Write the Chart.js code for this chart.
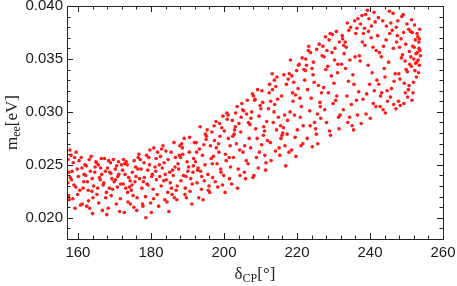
<!DOCTYPE html>
<html>
<head>
<meta charset="utf-8">
<script src="https://cdn.jsdelivr.net/npm/chart.js@4.4.0/dist/chart.umd.min.js"></script>
<style>
  html, body { margin: 0; padding: 0; background: #fff; }
  #wrap { width: 457px; height: 286px; }
</style>
</head>
<body>
<div id="wrap"><canvas id="scatterChart" width="457" height="286"></canvas></div>
<script>
// axis settings
const xMin = 157, xMax = 260, xStep = 4, xMajor = 20;
const yMin = 0.018, yMax = 0.040, yStep = 0.001, yMajor = 0.005;

// delta_CP [deg] (one row per ~5 degree strip)
const deltaCP = [
  157.4,159.8,158.1,161.2,157.9,160.5,158.7,161.7,159.2,157.2,160.9,158.4,161.4,159.5,157.6,160.1,158.9,161.9,157.3,159.9,160.7,158.2,161.1,157.8,159.4,160.3,158.6,161.6,157.5,159.1,
  162.3,165.7,163.9,166.4,162.8,164.6,166.9,163.2,165.1,162.1,164.1,166.2,163.6,165.4,162.6,164.9,166.7,163.4,165.9,162.9,164.3,166.5,163.1,165.2,162.4,164.7,166.1,163.8,165.6,164.0,
  167.5,170.8,168.9,171.6,167.1,169.7,171.2,168.3,170.2,167.8,169.3,171.9,168.6,170.5,167.3,169.9,171.4,168.1,170.9,167.6,169.1,171.1,168.7,170.3,167.9,169.5,171.7,168.4,170.6,169.0,
  172.4,175.8,173.7,176.5,172.9,174.6,176.9,173.2,175.3,172.2,174.1,176.2,173.5,175.6,172.7,174.9,176.7,173.9,175.1,172.5,174.4,176.4,173.1,175.9,172.8,174.3,176.1,173.6,175.4,174.8,
  177.3,180.6,178.8,181.5,177.7,179.6,181.8,178.2,180.1,177.1,179.2,181.3,178.5,180.8,177.9,179.9,181.1,178.6,180.4,177.5,179.4,181.7,178.1,180.2,177.8,179.1,181.4,178.9,180.7,179.7,
  182.4,185.5,183.8,186.6,182.8,184.7,186.9,183.3,185.1,182.1,184.2,186.3,183.6,185.8,182.6,184.9,186.1,183.1,185.3,182.9,184.4,186.7,183.9,185.6,182.3,184.1,186.4,183.5,185.9,184.6,
  187.4,190.7,188.6,191.5,187.8,189.7,191.9,188.2,190.3,187.2,189.1,191.2,188.9,190.5,187.6,189.4,191.7,188.4,190.9,187.1,189.9,191.3,188.7,190.1,187.9,189.3,191.6,188.1,190.6,189.6,
  192.5,195.6,193.8,196.7,192.2,194.6,196.3,193.1,195.1,192.8,194.1,196.9,193.5,195.9,192.4,194.8,196.1,193.3,195.4,192.9,194.3,196.5,193.9,195.2,192.6,194.5,196.8,193.6,195.7,194.9,
  197.4,200.6,198.8,201.5,197.9,199.7,201.8,198.3,200.1,197.1,199.2,201.2,198.6,200.8,197.6,199.4,201.7,198.1,200.3,197.8,199.9,201.1,198.9,200.4,197.3,199.1,201.4,198.5,200.9,199.6,
  202.3,205.7,203.6,206.6,202.8,204.4,206.2,203.1,205.2,202.1,204.9,206.9,203.9,205.4,202.6,204.1,206.4,203.4,205.9,202.9,204.7,206.1,203.7,205.1,202.4,204.3,206.7,203.2,205.6,204.6,
  207.3,210.6,208.7,211.5,207.8,209.6,211.9,208.2,210.1,207.1,209.2,211.2,208.5,210.8,207.6,209.4,211.7,208.1,210.3,207.9,209.9,211.1,208.9,210.4,207.4,209.1,211.4,208.4,210.9,209.7,
  212.4,215.6,213.8,216.6,212.9,214.7,216.3,213.2,215.1,212.2,214.2,216.9,213.5,215.8,212.7,214.5,216.1,213.9,215.3,212.5,214.9,216.7,213.3,215.5,212.8,214.1,216.4,213.7,215.9,214.4,
  217.4,220.6,218.8,221.6,217.9,219.7,221.2,218.2,220.1,217.1,219.3,221.9,218.5,220.8,217.6,219.5,221.4,218.1,220.3,217.8,219.9,221.7,218.9,220.4,217.3,219.1,221.1,218.6,220.9,219.6,
  222.3,225.6,223.7,226.7,222.8,224.5,226.3,223.2,225.1,222.1,224.2,226.9,223.5,225.9,222.6,224.8,226.1,223.9,225.3,222.4,224.4,226.5,223.1,225.7,222.9,224.1,226.4,223.6,225.4,224.7,
  227.4,230.6,228.8,231.5,227.9,229.7,231.8,228.2,230.1,227.1,229.2,231.2,228.6,230.8,227.6,229.4,231.6,228.1,230.3,227.8,229.9,231.1,228.9,230.4,227.3,229.1,231.4,228.4,230.9,229.6,
  232.4,235.6,233.8,236.6,232.9,234.7,236.3,233.2,235.1,232.2,234.2,236.9,233.5,235.8,232.7,234.5,236.1,233.9,235.3,232.5,234.9,236.7,233.3,235.5,232.8,234.1,236.4,233.7,235.9,234.4,
  237.4,240.6,238.8,241.6,237.9,239.7,241.2,238.2,240.1,237.1,239.3,241.9,238.5,240.8,237.6,239.5,241.4,238.1,240.3,237.8,239.9,241.7,238.9,240.4,237.3,239.1,241.1,238.6,240.9,239.6,
  242.3,245.6,243.7,246.6,242.8,244.5,246.3,243.2,245.1,242.1,244.2,246.9,243.5,245.9,242.6,244.8,246.1,243.9,245.3,242.4,244.4,246.5,243.1,245.7,242.9,244.1,246.4,243.6,245.4,244.7,
  247.3,250.5,248.7,249.6,247.8,249.2,250.8,248.2,250.1,247.1,249.9,248.5,250.3,247.6,249.4,248.9,250.6,247.9,249.1,248.3,250.9,247.5,249.7,248.1,250.2,247.2,249.3,248.6,250.7,249.8,
  251.2,253.4,252.3,253.7,251.6,252.8,253.1,251.9,253.5,252.1,251.4,252.6,253.6,251.8,253.2,252.4,253.8,251.3,252.9,253.3,252.2,251.7,253.0,252.7,253.5,251.5,252.5,253.4,251.1,252.0
];
// m_ee [eV], same order as deltaCP
const mee = [
  0.0221,0.0246,0.0259,0.0213,0.0238,0.0226,0.0252,0.0241,0.0209,0.0233,0.0257,0.0244,0.0228,0.0262,0.0217,0.0239,0.0231,0.0250,0.0255,0.0222,0.0212,0.0236,0.0247,0.0264,0.0229,0.0254,0.0218,0.0234,0.0243,0.0257,
  0.0249,0.0214,0.0237,0.0256,0.0226,0.0243,0.0231,0.0209,0.0252,0.0240,0.0219,0.0247,0.0258,0.0228,0.0234,0.0253,0.0207,0.0244,0.0238,0.0216,0.0230,0.0241,0.0255,0.0222,0.0211,0.0248,0.0236,0.0225,0.0250,0.0204,
  0.0244,0.0229,0.0252,0.0218,0.0233,0.0255,0.0241,0.0209,0.0246,0.0224,0.0237,0.0250,0.0228,0.0213,0.0256,0.0234,0.0206,0.0247,0.0239,0.0219,0.0221,0.0253,0.0243,0.0236,0.0203,0.0227,0.0232,0.0254,0.0249,0.0242,
  0.0232,0.0248,0.0215,0.0257,0.0241,0.0226,0.0237,0.0253,0.0210,0.0245,0.0229,0.0219,0.0250,0.0234,0.0205,0.0243,0.0260,0.0238,0.0221,0.0255,0.0213,0.0246,0.0228,0.0239,0.0251,0.0235,0.0207,0.0224,0.0254,0.0231,
  0.0246,0.0227,0.0259,0.0236,0.0213,0.0250,0.0262,0.0238,0.0205,0.0255,0.0231,0.0244,0.0220,0.0266,0.0234,0.0214,0.0248,0.0200,0.0241,0.0228,0.0257,0.0222,0.0252,0.0239,0.0211,0.0245,0.0256,0.0232,0.0218,0.0264,
  0.0239,0.0262,0.0217,0.0248,0.0230,0.0255,0.0226,0.0268,0.0243,0.0211,0.0236,0.0271,0.0252,0.0222,0.0258,0.0206,0.0240,0.0247,0.0233,0.0265,0.0215,0.0257,0.0241,0.0228,0.0250,0.0263,0.0219,0.0235,0.0245,0.0224,
  0.0251,0.0225,0.0266,0.0243,0.0259,0.0219,0.0271,0.0235,0.0248,0.0230,0.0275,0.0213,0.0240,0.0262,0.0246,0.0228,0.0256,0.0270,0.0237,0.0217,0.0253,0.0232,0.0260,0.0244,0.0268,0.0222,0.0249,0.0257,0.0276,0.0239,
  0.0262,0.0241,0.0227,0.0281,0.0253,0.0235,0.0268,0.0219,0.0274,0.0245,0.0259,0.0238,0.0286,0.0230,0.0271,0.0250,0.0224,0.0265,0.0283,0.0247,0.0217,0.0256,0.0239,0.0277,0.0233,0.0269,0.0251,0.0244,0.0226,0.0279,
  0.0273,0.0254,0.0289,0.0237,0.0266,0.0296,0.0248,0.0229,0.0282,0.0258,0.0243,0.0275,0.0262,0.0299,0.0234,0.0285,0.0268,0.0251,0.0224,0.0291,0.0240,0.0297,0.0277,0.0260,0.0287,0.0246,0.0257,0.0270,0.0293,0.0231,
  0.0292,0.0268,0.0305,0.0251,0.0279,0.0240,0.0298,0.0286,0.0262,0.0232,0.0308,0.0275,0.0246,0.0301,0.0257,0.0289,0.0311,0.0270,0.0237,0.0283,0.0295,0.0254,0.0228,0.0302,0.0277,0.0264,0.0290,0.0299,0.0243,0.0281,
  0.0266,0.0309,0.0284,0.0252,0.0317,0.0296,0.0273,0.0240,0.0303,0.0288,0.0321,0.0259,0.0312,0.0278,0.0300,0.0247,0.0291,0.0315,0.0269,0.0238,0.0306,0.0282,0.0257,0.0320,0.0294,0.0275,0.0245,0.0311,0.0286,0.0262,
  0.0318,0.0275,0.0330,0.0297,0.0254,0.0312,0.0285,0.0336,0.0266,0.0303,0.0324,0.0249,0.0290,0.0315,0.0271,0.0333,0.0280,0.0307,0.0259,0.0326,0.0295,0.0268,0.0321,0.0287,0.0310,0.0263,0.0335,0.0300,0.0278,0.0283,
  0.0292,0.0345,0.0318,0.0270,0.0336,0.0258,0.0305,0.0349,0.0283,0.0326,0.0297,0.0340,0.0264,0.0313,0.0331,0.0276,0.0351,0.0300,0.0322,0.0262,0.0339,0.0287,0.0310,0.0344,0.0279,0.0328,0.0268,0.0334,0.0295,0.0316,
  0.0339,0.0298,0.0356,0.0318,0.0275,0.0347,0.0309,0.0362,0.0284,0.0330,0.0267,0.0353,0.0301,0.0325,0.0344,0.0290,0.0364,0.0313,0.0279,0.0350,0.0335,0.0294,0.0358,0.0270,0.0321,0.0341,0.0305,0.0287,0.0359,0.0328,
  0.0352,0.0311,0.0368,0.0284,0.0340,0.0373,0.0297,0.0358,0.0327,0.0362,0.0278,0.0345,0.0318,0.0376,0.0302,0.0334,0.0366,0.0290,0.0349,0.0371,0.0308,0.0337,0.0282,0.0360,0.0323,0.0374,0.0295,0.0343,0.0315,0.0356,
  0.0372,0.0326,0.0384,0.0297,0.0355,0.0380,0.0311,0.0366,0.0287,0.0345,0.0377,0.0319,0.0361,0.0386,0.0302,0.0349,0.0374,0.0290,0.0335,0.0369,0.0307,0.0388,0.0341,0.0283,0.0363,0.0329,0.0379,0.0315,0.0352,0.0295,
  0.0383,0.0337,0.0392,0.0305,0.0366,0.0388,0.0320,0.0374,0.0294,0.0353,0.0396,0.0330,0.0379,0.0361,0.0289,0.0344,0.0385,0.0312,0.0370,0.0391,0.0326,0.0358,0.0298,0.0381,0.0348,0.0317,0.0394,0.0363,0.0308,0.0376,
  0.0389,0.0314,0.0362,0.0329,0.0305,0.0381,0.0393,0.0318,0.0347,0.0372,0.0299,0.0336,0.0386,0.0322,0.0356,0.0310,0.0377,0.0341,0.0395,0.0326,0.0368,0.0307,0.0352,0.0384,0.0315,0.0333,0.0360,0.0302,0.0374,0.0320,
  0.0366,0.0321,0.0390,0.0348,0.0310,0.0375,0.0357,0.0331,0.0383,0.0303,0.0340,0.0369,0.0314,0.0386,0.0327,0.0354,0.0378,0.0336,0.0392,0.0306,0.0345,0.0372,0.0318,0.0361,0.0338,0.0380,0.0308,0.0351,0.0325,0.0364,
  0.0352,0.0366,0.0339,0.0358,0.0375,0.0347,0.0371,0.0328,0.0344,0.0361,0.0387,0.0355,0.0378,0.0318,0.0349,0.0368,0.0353,0.0343,0.0374,0.0337,0.0382,0.0362,0.0356,0.0333,0.0369,0.0311,0.0346,0.0360,0.0376,0.0350
];

const points = deltaCP.map((x, i) => ({ x: x, y: mee[i] }));

function isMajor(v, major) {
  const r = v / major;
  return Math.abs(r - Math.round(r)) < 1e-6;
}

// Mathematica style frame with inward ticks on all four sides, plus axis titles
const framePlugin = {
  id: 'frame',
  afterDraw(chart) {
    const ctx = chart.ctx;
    const a = chart.chartArea;
    const xs = chart.scales.x, ys = chart.scales.y;
    ctx.save();
    ctx.strokeStyle = '#222';
    ctx.lineWidth = 1;
    ctx.strokeRect(Math.round(a.left) + 0.5, Math.round(a.top) + 0.5,
                   Math.round(a.right - a.left), Math.round(a.bottom - a.top));
    ctx.beginPath();
    xs.ticks.forEach(t => {
      const len = isMajor(t.value, xMajor) ? 6 : 3.5;
      const px = Math.round(xs.getPixelForValue(t.value)) + 0.5;
      ctx.moveTo(px, a.bottom); ctx.lineTo(px, a.bottom - len);
      ctx.moveTo(px, a.top); ctx.lineTo(px, a.top + len);
    });
    ys.ticks.forEach(t => {
      const len = isMajor(t.value, yMajor) ? 6 : 3.5;
      const py = Math.round(ys.getPixelForValue(t.value)) + 0.5;
      ctx.moveTo(a.left, py); ctx.lineTo(a.left + len, py);
      ctx.moveTo(a.right, py); ctx.lineTo(a.right - len, py);
    });
    ctx.stroke();

    // x title: delta_CP [deg]
    ctx.fillStyle = '#222';
    ctx.textBaseline = 'alphabetic';
    const big = '17px "Liberation Serif"', small = '12px "Liberation Serif"';
    let parts = [['\u03B4', big, 0], ['CP', small, 3], ['[\u00B0]', big, 0]];
    let w = 0;
    parts.forEach(p => { ctx.font = p[1]; w += ctx.measureText(p[0]).width; });
    let cx = (a.left + a.right) / 2 - w / 2;
    parts.forEach(p => {
      ctx.font = p[1];
      ctx.fillText(p[0], cx, 279 + p[2]);
      cx += ctx.measureText(p[0]).width;
    });

    // y title: m_ee [eV]
    ctx.translate(17, (a.top + a.bottom) / 2);
    ctx.rotate(-Math.PI / 2);
    parts = [['m', big, 0], ['ee', small, 3], ['[eV]', big, 0]];
    w = 0;
    parts.forEach(p => { ctx.font = p[1]; w += ctx.measureText(p[0]).width; });
    cx = -w / 2;
    parts.forEach(p => {
      ctx.font = p[1];
      ctx.fillText(p[0], cx, p[2]);
      cx += ctx.measureText(p[0]).width;
    });
    ctx.restore();
  }
};

const ctx = document.getElementById('scatterChart').getContext('2d');
new Chart(ctx, {
  type: 'scatter',
  data: {
    datasets: [{
      data: points,
      backgroundColor: '#ff1a1a',
      borderWidth: 0,
      pointRadius: 1.8,
      pointHoverRadius: 1.8
    }]
  },
  options: {
    responsive: false,
    animation: false,
    layout: { padding: { top: 6, right: 14, left: 0, bottom: 0 } },
    plugins: { legend: { display: false }, tooltip: { enabled: false } },
    scales: {
      x: {
        type: 'linear',
        min: xMin, max: xMax,
        grid: { display: false, drawTicks: false },
        border: { display: false },
        ticks: {
          stepSize: xStep,
          includeBounds: false,
          autoSkip: false,
          maxRotation: 0,
          padding: 5,
          color: '#1a1a1a',
          font: { family: '"Liberation Sans"', size: 15 },
          callback: v => isMajor(v, xMajor) ? String(Math.round(v)) : ''
        },
        afterFit: s => { s.height = 47; s.paddingLeft = 0; s.paddingRight = 0; }
      },
      y: {
        type: 'linear',
        min: yMin, max: yMax,
        grid: { display: false, drawTicks: false },
        border: { display: false },
        ticks: {
          stepSize: yStep,
          includeBounds: false,
          autoSkip: false,
          padding: 4,
          color: '#1a1a1a',
          font: { family: '"Liberation Sans"', size: 15 },
          callback: v => isMajor(v, yMajor) ? v.toFixed(3) : ''
        },
        afterFit: s => { s.width = 67; s.paddingTop = 0; s.paddingBottom = 0; }
      }
    }
  },
  plugins: [framePlugin]
});
</script>
</body>
</html>
